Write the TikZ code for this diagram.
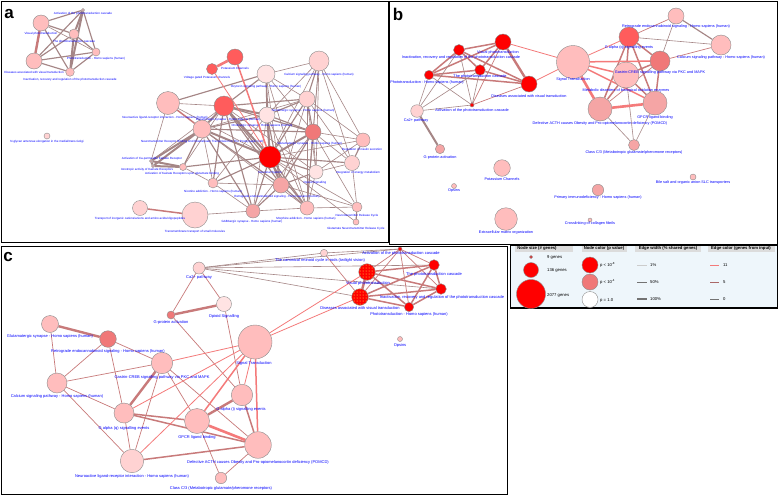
\documentclass[tikz,border=0pt]{standalone}
\usepackage{fontspec}
\setmainfont{Liberation Sans}
\usetikzlibrary{patterns}
\pgfdeclarelayer{bg}
\pgfdeclarelayer{edges}
\pgfsetlayers{bg,edges,main}
\definecolor{cred}{HTML}{FF0000}
\definecolor{csala}{HTML}{FF5C5C}
\definecolor{csalb}{HTML}{F07878}
\definecolor{csalc}{HTML}{F5A5A5}
\definecolor{cpink}{HTML}{FFBDBD}
\definecolor{clpink}{HTML}{FFD2D2}
\definecolor{cvlp}{HTML}{FFE3E3}
\definecolor{eg}{HTML}{A58686}
\definecolor{em}{HTML}{C87A7A}
\definecolor{er}{HTML}{F47A7A}
\definecolor{ndb}{HTML}{8C8C8C}
\definecolor{labblue}{HTML}{0000FF}
\definecolor{legbg}{HTML}{EEF6FB}
\definecolor{hdr}{HTML}{DCDCDC}
\tikzset{
  nds/.style={circle, draw=ndb, line width=0.4pt, inner sep=0pt},
  laba/.style={text=labblue, inner sep=0pt, font=\fontsize{3}{3.4}\selectfont},
  labb/.style={text=labblue, inner sep=0pt, font=\fontsize{3.8}{4.2}\selectfont},
  labc/.style={text=labblue, inner sep=0pt, font=\fontsize{4}{4.4}\selectfont},
  legt/.style={text=black, inner sep=0pt, font=\fontsize{4.2}{4.6}\selectfont, anchor=west},
  legh/.style={text=black, inner sep=0pt, font=\fontsize{4.2}{4.6}\selectfont\bfseries},
  plet/.style={inner sep=0pt, font=\fontsize{17}{17}\selectfont\bfseries},
  g1/.style={draw=eg, line width=0.6pt},
  g2/.style={draw=eg, line width=1.15pt},
  g3/.style={draw=eg, line width=2pt},
  m1/.style={draw=em, line width=0.7pt},
  m2/.style={draw=em, line width=1.5pt},
  m3/.style={draw=em, line width=2.4pt},
  r1/.style={draw=er, line width=0.8pt},
  r2/.style={draw=er, line width=1.5pt},
  r3/.style={draw=er, line width=2.6pt},
  frame/.style={draw=black, line width=0.9pt},
}
\newcommand\mkn[5]{\node[nds, minimum size={2*#4pt}, fill=#5] (#1) at (#2,#3) {};}
\newcommand\mknd[4]{\node[nds, minimum size={2*#4pt}, fill=cred, postaction={pattern=dots, pattern color=yellow!70}] (#1) at (#2,#3) {};}
\newcommand\mkl[5]{\node[#1] (#2) at (#3,#4) {#5};}
\begin{document}
\begin{tikzpicture}[x=1pt,y=-1pt]
\useasboundingbox (0,0) rectangle (778,496);
\begin{pgfonlayer}{bg}
\fill[white] (0,0) rectangle (778,496);
\end{pgfonlayer}
% ---------------- panel a ----------------
\mkn{aAV}{83}{10}{1.5}{cpink}
\mkn{aVP}{41}{23}{8}{cpink}
\mkn{aPC}{74}{34}{5}{cpink}
\mkn{aPH}{96}{52}{4}{cpink}
\mkn{aDV}{34}{61}{8}{cpink}
\mkn{aIR}{70}{72}{4.3}{cpink}
\mkn{aP1}{235}{57}{8}{csala}
\mkn{aP2}{212}{69}{5.5}{csala}
\mkn{aO}{266}{74}{9}{cvlp}
\mkn{aCA}{319}{61}{10}{clpink}
\mkn{aNL}{168}{103}{11.5}{cpink}
\mkn{aDS}{224}{106}{10}{csala}
\mkn{aCH}{267}{115}{8}{cvlp}
\mkn{aSE}{307}{99}{8}{clpink}
\mkn{aNR}{202}{129}{9}{cpink}
\mkn{aGL}{313}{132}{8}{csalb}
\mkn{aRI}{363}{140}{7}{cpink}
\mkn{aNS}{270}{157}{11}{cred}
\mkn{aK1}{183}{167}{3.5}{cpink}
\mkn{aK2}{151}{161}{1.5}{cpink}
\mkn{aK3}{153}{166}{1.5}{cpink}
\mkn{aNI}{213}{183}{5}{cpink}
\mkn{aRE}{281}{185}{8}{csalc}
\mkn{aOP}{316}{172}{7}{cvlp}
\mkn{aIE}{352}{163}{7.5}{clpink}
\mkn{aGA}{253}{211}{7}{csalc}
\mkn{aMO}{307}{208}{7}{cpink}
\mkn{aNC}{357}{207}{5}{cpink}
\mkn{aGN}{356}{222}{3}{cpink}
\mkn{aTI}{140}{208}{7.5}{clpink}
\mkn{aTM}{195}{215}{13}{clpink}
\mkn{aNG}{47}{136}{3}{clpink}
\mkl{laba}{laAV}{83}{14}{Activation of the phototransduction cascade}
\mkl{laba}{laVP}{41}{34}{Visual phototransduction}
\mkl{laba}{laPC}{74}{42}{The phototransduction cascade}
\mkl{laba}{laPH}{96}{59}{Phototransduction - Homo sapiens (human)}
\mkl{laba}{laDV}{34}{72}{Diseases associated with visual transduction}
\mkl{laba}{laIR}{70}{80}{Inactivation, recovery and regulation of the phototransduction cascade}
\mkl{laba}{laP1}{235}{68}{Potassium Channels}
\mkl{laba}{laP2}{207}{78}{Voltage gated Potassium channels}
\mkl{laba}{laO}{266}{87}{Oxytocin signaling pathway - Homo sapiens (human)}
\mkl{laba}{laCA}{319}{75}{Calcium signaling pathway - Homo sapiens (human)}
\mkl{laba}{laNL}{165}{118}{Neuroactive ligand-receptor interaction - Homo sapiens (human)}
\mkl{laba}{laDS}{228}{119.5}{Dopaminergic synapse - Homo sapiens (human)}
\mkl{laba}{laCH}{262}{126}{Cholinergic synapse - Homo sapiens (human)}
\mkl{laba}{laSE}{303}{111}{Serotonergic synapse - Homo sapiens (human)}
\mkl{laba}{laNR}{202}{142}{Neurotransmitter Receptor Binding And Downstream Transmission In The Postsynaptic Cell}
\mkl{laba}{laGL}{310}{144}{Glutamatergic synapse - Homo sapiens (human)}
\mkl{laba}{laRI}{362}{150}{Regulation of insulin secretion}
\mkl{laba}{laNS}{270}{173}{Neuronal System}
\mkl{laba}{laK1}{152}{159}{Activation of Ca-permeable Kainate Receptor}
\mkl{laba}{laK2}{147}{170}{Ionotropic activity of Kainate Receptors}
\mkl{laba}{laK3}{182}{174}{Activation of Kainate Receptors upon glutamate binding}
\mkl{laba}{laNI}{213}{192}{Nicotine addiction - Homo sapiens (human)}
\mkl{laba}{laRE}{277}{197}{Retrograde endocannabinoid signaling - Homo sapiens (human)}
\mkl{laba}{laOP}{315}{183}{Opioid Signalling}
\mkl{laba}{laIE}{358}{173}{Integration of energy metabolism}
\mkl{laba}{laGA}{252}{222}{GABAergic synapse - Homo sapiens (human)}
\mkl{laba}{laMO}{306}{219}{Morphine addiction - Homo sapiens (human)}
\mkl{laba}{laNC}{357}{216}{Neurotransmitter Release Cycle}
\mkl{laba}{laGN}{356}{229}{Glutamate Neurotransmitter Release Cycle}
\mkl{laba}{laTI}{140}{219}{Transport of inorganic cations/anions and amino acids/oligopeptides}
\mkl{laba}{laTM}{195}{232}{Transmembrane transport of small molecules}
\mkl{laba}{laNG}{47}{142}{N-glycan antennae elongation in the medial/trans-Golgi}
% ---------------- panel b ----------------
\mkn{bVb}{503}{42}{8}{cred}
\mkn{bIb}{459}{50}{5.5}{cred}
\mkn{bCb}{480}{70}{5.3}{cred}
\mkn{bHb}{429}{75}{4.7}{cred}
\mkn{bDb}{529}{84}{8}{cred}
\mkn{bAb}{472}{105}{2}{cred}
\mkn{bCAb}{417}{111}{6.3}{clpink}
\mkn{bGPb}{440}{149}{4.7}{csalc}
\mkn{bOpb}{454}{186}{2.5}{cpink}
\mkn{bKCb}{502}{168}{8.3}{cpink}
\mkn{bECb}{506}{219}{11.3}{cpink}
\mkn{bPIb}{598}{190}{5.7}{csalc}
\mkn{bBSb}{693}{177}{3}{cpink}
\mkn{bCFb}{590}{220}{2}{cpink}
\mkn{bST}{573}{62}{16.5}{cpink}
\mkn{bGq}{629}{37}{10}{csala}
\mkn{bRB}{676}{16}{8}{cpink}
\mkn{bCL}{721}{45}{10}{cpink}
\mkn{bGC}{660}{61}{10}{csalb}
\mkn{bMD}{626}{75}{13}{cpink}
\mkn{bDA}{600}{109}{12}{csalc}
\mkn{bGP}{655}{103}{12}{csalc}
\mkn{bCC}{634}{145}{5.5}{csalc}
\mkl{labb}{lbVb}{498}{53}{Visual phototransduction}
\mkl{labb}{lbIb}{461}{58}{Inactivation, recovery and regulation of the phototransduction cascade}
\mkl{labb}{lbCb}{480}{77}{The phototransduction cascade}
\mkl{labb}{lbHb}{427}{83}{Phototransduction - Homo sapiens (human)}
\mkl{labb}{lbDb}{529}{96}{Diseases associated with visual transduction}
\mkl{labb}{lbAb}{472}{111}{Activation of the phototransduction cascade}
\mkl{labb}{lbCAb}{416}{121}{Ca2+ pathway}
\mkl{labb}{lbGPb}{440}{158}{G-protein activation}
\mkl{labb}{lbOpb}{454}{191}{Opsins}
\mkl{labb}{lbKCb}{502}{179}{Potassium Channels}
\mkl{labb}{lbECb}{506}{233}{Extracellular matrix organization}
\mkl{labb}{lbPIb}{598}{198}{Primary immunodeficiency - Homo sapiens (human)}
\mkl{labb}{lbBSb}{693}{183}{Bile salt and organic anion SLC transporters}
\mkl{labb}{lbCFb}{590}{224}{Crosslinking of collagen fibrils}
\mkl{labb}{lbST}{573}{80}{Signal Transduction}
\mkl{labb}{lbGq}{629}{48}{G alpha (q) signalling events}
\mkl{labb}{lbRB}{676}{27}{Retrograde endocannabinoid signaling - Homo sapiens (human)}
\mkl{labb}{lbCL}{721}{58}{Calcium signaling pathway - Homo sapiens (human)}
\mkl{labb}{lbGC}{660}{73}{Gastrin-CREB signalling pathway via PKC and MAPK}
\mkl{labb}{lbMD}{626}{91}{Metabolic disorders of biological oxidation enzymes}
\mkl{labb}{lbDA}{600}{124}{Defective ACTH causes Obesity and Pro-opiomelanocortin deficiency (POMCD)}
\mkl{labb}{lbGP}{655}{118}{GPCR ligand binding}
\mkl{labb}{lbCC}{634}{153}{Class C/3 (Metabotropic glutamate/pheromone receptors)}
% ---------------- panel c ----------------
\mkn{cCac}{199}{268}{6}{clpink}
\mkn{cOSc}{224}{304}{7.5}{cvlp}
\mkn{cGPc}{171}{315}{4}{csalb}
\mkn{cGLc}{50}{324}{8.5}{cpink}
\mkn{cRBc}{108}{339}{8.3}{csalb}
\mkn{cGCc}{162}{363}{10.7}{cpink}
\mkn{cCLc}{57}{383}{10}{cpink}
\mkn{cSTc}{255}{342}{17}{cpink}
\mkn{cGic}{242}{395}{10.7}{cpink}
\mkn{cGqc}{124}{413}{10}{cpink}
\mkn{cGPRc}{197}{421}{12.5}{cpink}
\mkn{cDAc}{258}{445}{13.3}{cpink}
\mkn{cNLc}{132}{461}{11.7}{clpink}
\mkn{cCCc}{221}{478}{5.7}{cpink}
\mkn{cCRc}{324}{253}{3.7}{clpink}
\mkn{cAc}{400}{249}{2}{cred}
\mknd{cVc}{367}{272}{8.3}
\mkn{cCc}{434}{265}{5.3}{cred}
\mkn{cIc}{441}{289}{5.3}{cred}
\mknd{cDc}{360}{297}{8.3}
\mkn{cHc}{409}{307}{4.7}{cred}
\mkn{cOc}{400}{339}{2.5}{cpink}
\mkl{labc}{lcCac}{199}{277}{Ca2+ pathway}
\mkl{labc}{lcOSc}{224}{316}{Opioid Signalling}
\mkl{labc}{lcGPc}{171}{322}{G-protein activation}
\mkl{labc}{lcGLc}{50}{336}{Glutamatergic synapse - Homo sapiens (human)}
\mkl{labc}{lcRBc}{108}{351}{Retrograde endocannabinoid signaling - Homo sapiens (human)}
\mkl{labc}{lcGCc}{162}{377}{Gastrin-CREB signalling pathway via PKC and MAPK}
\mkl{labc}{lcCLc}{57}{396}{Calcium signaling pathway - Homo sapiens (human)}
\mkl{labc}{lcSTc}{254}{363}{Signal Transduction}
\mkl{labc}{lcGic}{241}{409}{G alpha (i) signalling events}
\mkl{labc}{lcGqc}{124}{428}{G alpha (q) signalling events}
\mkl{labc}{lcGPRc}{197}{437}{GPCR ligand binding}
\mkl{labc}{lcDAc}{258}{462}{Defective ACTH causes Obesity and Pro-opiomelanocortin deficiency (POMCD)}
\mkl{labc}{lcNLc}{132}{476}{Neuroactive ligand-receptor interaction - Homo sapiens (human)}
\mkl{labc}{lcCCc}{221}{488}{Class C/3 (Metabotropic glutamate/pheromone receptors)}
\mkl{labc}{lcCRc}{320}{260}{The canonical retinoid cycle in rods (twilight vision)}
\mkl{labc}{lcAc}{401}{253}{Activation of the phototransduction cascade}
\mkl{labc}{lcVc}{368}{283}{Visual phototransduction}
\mkl{labc}{lcCc}{434}{274}{The phototransduction cascade}
\mkl{labc}{lcIc}{442}{297}{Inactivation, recovery and regulation of the phototransduction cascade}
\mkl{labc}{lcDc}{360}{308}{Diseases associated with visual transduction}
\mkl{labc}{lcHc}{409}{314}{Phototransduction - Homo sapiens (human)}
\mkl{labc}{lcOc}{400}{345}{Opsins}
% ---------------- edges ----------------
\begin{pgfonlayer}{edges}
% panel a
\foreach \p/\q in {aVP/aPH, aNL/aDS, aNL/aNS, aO/aCA, aO/aSE, aO/aGL, aO/aRE, aO/aMO, aCA/aGL, aCA/aCH, aCA/aNS, aCA/aRI, aCA/aIE, aCA/aOP, aCA/aMO, aDS/aK1, aDS/aOP, aCH/aMO, aCH/aGA, aCH/aNI, aSE/aRI, aSE/aIE, aSE/aRE, aSE/aMO, aSE/aNR, aSE/aOP, aNR/aNI, aNR/aMO, aGL/aRI, aGL/aIE, aGL/aOP, aGL/aGA, aGL/aNC, aRI/aNS, aRI/aOP, aNS/aNC, aNS/aGN, aRE/aNI, aOP/aMO, aOP/aIE, aGA/aMO, aGA/aNI, aK1/aNI, aIE/aNC, aMO/aNC, aRE/aNC, aTM/aGA, aNL/aK2, aDS/aK2}
  \draw[g1] (\p) -- (\q);
\foreach \p/\q in {aAV/aVP, aAV/aPH, aAV/aDV, aVP/aPC, aVP/aIR, aPC/aPH, aPC/aDV, aPH/aDV, aPH/aIR, aDV/aIR, aNL/aO, aO/aDS, aO/aCH, aO/aNS, aCA/aSE, aDS/aRE, aDS/aSE, aDS/aGL, aDS/aNI, aDS/aGA, aDS/aMO, aCH/aSE, aCH/aGL, aCH/aNR, aCH/aRE, aSE/aGL, aSE/aNS, aNR/aK1, aNR/aGL, aNR/aRE, aNR/aGA, aGL/aRE, aGL/aMO, aRI/aIE, aNS/aOP, aNS/aIE, aNS/aGA, aNS/aMO, aNS/aNI, aNS/aK1, aRE/aGA, aRE/aMO, aRE/aOP, aNC/aGN}
  \draw[g2] (\p) -- (\q);
\foreach \p/\q in {aAV/aPC, aAV/aIR, aPC/aIR, aDS/aCH, aDS/aNR, aDS/aNS, aCH/aNS, aNR/aNS, aGL/aNS, aNS/aRE, aK1/aK2, aK1/aK3, aK2/aK3, aNR/aK2, aNR/aK3}
  \draw[g3] (\p) -- (\q);
\foreach \p/\q in {aNL/aNR, aTI/aTM}
  \draw[m2] (\p) -- (\q);
\draw[m3] (aVP) -- (aDV);
\draw[r1] (aP2) -- (aNS);
\draw[r2] (aP1) -- (aNS);
\draw[r3] (aP1) -- (aP2);
% panel b
\foreach \p/\q in {bVb/bAb, bDb/bAb, bGq/bRB, bGC/bCL, bGC/bDA}
  \draw[m1] (\p) -- (\q);
\foreach \p/\q in {bVb/bIb, bVb/bCb, bVb/bHb, bIb/bCb, bIb/bHb, bIb/bDb, bCb/bHb, bCb/bDb, bHb/bDb, bGq/bGC, bGq/bMD, bGq/bDA, bGq/bGP, bGC/bMD, bGC/bGP, bMD/bDA, bMD/bGP}
  \draw[m2] (\p) -- (\q);
\draw[m3] (bVb) -- (bDb);
\foreach \p/\q in {bIb/bAb, bCb/bAb, bHb/bAb, bCAb/bHb, bCAb/bIb, bCAb/bCb, bCAb/bAb, bGq/bCL, bRB/bGC, bCC/bDA, bCC/bGP, bCC/bMD}
  \draw[g1] (\p) -- (\q);
\draw[g2] (bRB) -- (bCL);
\draw[g3] (bCAb) -- (bGPb);
\foreach \p/\q in {bVb/bST, bDb/bST, bST/bGq}
  \draw[r1] (\p) -- (\q);
\foreach \p/\q in {bST/bGC, bST/bMD, bST/bGP}
  \draw[r2] (\p) -- (\q);
\foreach \p/\q in {bST/bDA, bDA/bGP}
  \draw[r3] (\p) -- (\q);
% panel c
\foreach \p/\q in {cCac/cCRc, cCac/cAc, cCac/cCc, cCac/cIc, cCac/cDc, cCRc/cAc}
  \draw[g1] (\p) -- (\q);
\foreach \p/\q in {cCac/cOSc, cCac/cGPc, cCRc/cDc, cGPc/cGic, cOSc/cGic, cGLc/cCLc, cRBc/cCLc, cRBc/cGCc, cRBc/cGqc, cCLc/cGCc, cCLc/cGqc, cCLc/cNLc, cGCc/cNLc, cGCc/cGPRc, cGCc/cDAc, cGqc/cNLc, cGPRc/cCCc, cDAc/cCCc, cAc/cVc, cAc/cCc, cAc/cIc, cAc/cDc, cAc/cHc}
  \draw[m1] (\p) -- (\q);
\foreach \p/\q in {cGqc/cGPRc, cGqc/cDAc, cNLc/cDAc, cDAc/cGic, cVc/cCc, cVc/cIc, cVc/cHc, cCc/cIc, cCc/cDc, cCc/cHc, cIc/cDc, cIc/cHc, cDc/cHc}
  \draw[m2] (\p) -- (\q);
\foreach \p/\q in {cGPc/cOSc, cGLc/cRBc, cGCc/cGqc, cGPRc/cGic, cVc/cDc}
  \draw[m3] (\p) -- (\q);
\foreach \p/\q in {cGCc/cSTc, cGqc/cSTc, cNLc/cSTc, cGic/cSTc, cSTc/cVc, cSTc/cDc}
  \draw[r1] (\p) -- (\q);
\foreach \p/\q in {cGPRc/cSTc, cDAc/cSTc}
  \draw[r2] (\p) -- (\q);
\draw[r3] (cGPRc) -- (cDAc);
\end{pgfonlayer}
% ---------------- frames and letters ----------------
\draw[frame] (1,1) rectangle (388,242);
\draw[frame] (389,1) rectangle (777,244);
\draw[frame] (1,246) rectangle (507,494);
\node[plet] (pa) at (9,14) {a};
\node[plet] (pb) at (398,14) {b};
\node[plet] (pc) at (8,257) {c};
% ---------------- legend ----------------
\fill[legbg] (510,245) rectangle (777,308);
\draw[black, line width=0.4pt] (510,245) rectangle (777,308);
\draw[black, line width=1.4pt] (510,308) -- (777,308);
\fill[hdr] (515,245.5) rectangle (573,251.5);
\fill[hdr] (582,245.5) rectangle (627,251.5);
\fill[hdr] (635,245.5) rectangle (701,251.5);
\fill[hdr] (708,245.5) rectangle (775,251.5);
\node[legh] (h1) at (537,248.5) {Node size (\# genes)};
\node[legh] (h2) at (604,248.5) {Node color (p value)};
\node[legh] (h3) at (668,248.5) {Edge width (\% shared genes)};
\node[legh] (h4) at (741,248.5) {Edge color (genes from input)};
\mkn{ls1}{531}{257}{1.5}{cred}
\mkn{ls2}{531}{270}{7.5}{cred}
\mkn{ls3}{531}{294}{14.5}{cred}
\node[legt] (ts1) at (547,257) {9 genes};
\node[legt] (ts2) at (547,270) {136 genes};
\node[legt] (ts3) at (547,295) {2077 genes};
\mkn{lc1}{590}{265}{8}{cred}
\mkn{lc2}{590}{282}{8}{csalb}
\mkn{lc3}{590}{299.5}{8}{white}
\node[legt] (tc1) at (600,265) {p < 10\textsuperscript{-8}};
\node[legt] (tc2) at (600,282) {p < 10\textsuperscript{-4}};
\node[legt] (tc3) at (600,300) {p = 1.0};
\coordinate (w1a) at (637,265); \coordinate (w1b) at (647,265);
\coordinate (w2a) at (637,282); \coordinate (w2b) at (647,282);
\coordinate (w3a) at (637,299); \coordinate (w3b) at (647,299);
\draw[draw=black!20, line width=0.6pt] (w1a) -- (w1b);
\draw[draw=black!55, line width=1pt] (w2a) -- (w2b);
\draw[draw=black!55, line width=2.4pt] (w3a) -- (w3b);
\node[legt] (tw1) at (650,265) {1\%};
\node[legt] (tw2) at (650,282) {50\%};
\node[legt] (tw3) at (650,299) {100\%};
\coordinate (k1a) at (710,265); \coordinate (k1b) at (719,265);
\coordinate (k2a) at (710,282); \coordinate (k2b) at (719,282);
\coordinate (k3a) at (710,299); \coordinate (k3b) at (719,299);
\draw[draw=er, line width=1pt] (k1a) -- (k1b);
\draw[draw=em!85!black, line width=1pt] (k2a) -- (k2b);
\draw[draw=black!55, line width=1pt] (k3a) -- (k3b);
\node[legt] (tk1) at (723,265) {11};
\node[legt] (tk2) at (723,282) {5};
\node[legt] (tk3) at (723,299) {0};
\end{tikzpicture}
\end{document}
